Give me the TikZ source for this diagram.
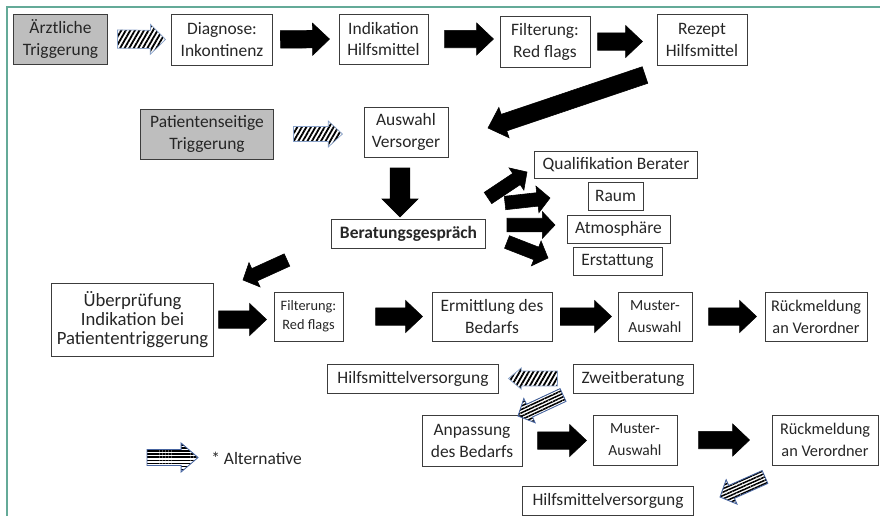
\documentclass[tikz,border=0pt]{standalone}
\usepackage{fontspec}
\setmainfont{Carlito}
\usetikzlibrary{calc,patterns.meta}
\definecolor{rahmen}{RGB}{100,170,152}
\definecolor{kante}{RGB}{60,60,60}
\definecolor{graufeld}{RGB}{190,190,190}
\definecolor{schraffrand}{RGB}{135,160,200}
\definecolor{streifrand}{RGB}{70,100,160}

\begin{document}
\begin{tikzpicture}[x=0.025cm,y=-0.025cm,font=\fontsize{12.4}{15.6}\selectfont]
\tikzset{box/.style={draw=kante,line width=0.7pt,align=center,inner sep=0pt,text=black!85},
dims/.style 2 args={minimum width=#1*0.7113pt,minimum height=#2*0.7113pt},
trigger/.style={box,fill=graufeld},
gap a/.initial=5pt, gap b/.initial=5pt, shaft/.initial=6.2pt, head w/.initial=11.4pt, head l/.initial=12pt,
frei/.style={gap a=0pt,gap b=0pt},
pfeil/.style={to path={let \p1=($(\tikztostart)!\pgfkeysvalueof{/tikz/gap a}!(\tikztotarget)$),
 \p2=($(\tikztotarget)!\pgfkeysvalueof{/tikz/gap b}!(\tikztostart)$),
 \p3=($(\p2)!\pgfkeysvalueof{/tikz/head l}!(\p1)$) in
 ($(\p1)!\pgfkeysvalueof{/tikz/shaft}!90:(\p2)$) -- ($(\p3)!\pgfkeysvalueof{/tikz/shaft}!-90:(\p1)$)
 -- ($(\p3)!\pgfkeysvalueof{/tikz/head w}!-90:(\p1)$) -- (\p2)
 -- ($(\p3)!\pgfkeysvalueof{/tikz/head w}!90:(\p1)$) -- ($(\p3)!\pgfkeysvalueof{/tikz/shaft}!90:(\p1)$)
 -- ($(\p1)!\pgfkeysvalueof{/tikz/shaft}!-90:(\p2)$) -- cycle}},
schwarz/.style={pfeil,fill=black,draw=black,line width=0.4pt},
schraff/.style={pfeil,pattern={Lines[angle=60,distance=2.8pt,line width=1.3pt]},pattern color=black,draw=schraffrand,line width=0.5pt},
streif/.style={pfeil,pattern={Lines[angle=#1,distance=2.2pt,line width=1.1pt]},pattern color=black,draw=streifrand,line width=0.6pt},
streif/.default=0,
fan/.style={schwarz,frei,shaft=4.8pt,head w=9.5pt,head l=9pt}}

\useasboundingbox (0,0) rectangle (880,516);
\draw[rahmen,line width=1.4pt] (7,516) -- (7,7) -- (880,7);

\node[trigger,dims={93}{50}] (aerztl) at (60.5,39) {Ärztliche\\Triggerung};
\node[box,dims={100}{51}] (diag) at (222,39.5) {Diagnose:\\Inkontinenz};
\node[box,dims={89}{50}] (indik) at (383.5,39) {Indikation\\Hilfsmittel};
\node[box,dims={90}{51}] (filt1) at (545,41.5) {Filterung:\\Red flags};
\node[box,dims={90}{51}] (rezept) at (702,39.5) {Rezept\\Hilfsmittel};
\node[trigger,dims={132}{50}] (patient) at (207,134) {Patientenseitige\\Triggerung};
\node[box,dims={84}{50}] (auswahl) at (406,132) {Auswahl\\Versorger};
\node[box,dims={153}{29},font=\fontsize{12.4}{15.6}\selectfont\bfseries] (berat) at (408.5,233.5) {Beratungsgespräch};
\node[box,dims={162}{27}] (quali) at (616,164.5) {Qualifikation Berater};
\node[box,dims={55}{28}] (raum) at (615.5,196) {Raum};
\node[box,dims={103}{28}] (atmo) at (618.5,229) {Atmosphäre};
\node[box,dims={89}{28}] (erst) at (617.5,261) {Erstattung};
\node[box,dims={161}{73},font=\fontsize{13.3}{13.6}\selectfont] (ueber) at (132.5,319.5) {Überprüfung\\Indikation bei\\Patiententriggerung};
\node[box,dims={69}{49},font=\fontsize{10.2}{13.6}\selectfont] (filt2) at (308.5,316.5) {Filterung:\\Red flags};
\node[box,dims={120}{49},font=\fontsize{12.4}{15}\selectfont] (ermitt) at (492,316.5) {Ermittlung des\\Bedarfs};
\node[box,dims={74}{49},font=\fontsize{11}{15.6}\selectfont] (muster1) at (655,316.5) {Muster-\\Auswahl};
\node[box,dims={102}{49},font=\fontsize{11.6}{15.6}\selectfont] (rueck1) at (816,316.5) {Rückmeldung\\an Verordner};
\node[box,dims={170}{29}] (hmv1) at (413,378.5) {Hilfsmittelversorgung};
\node[box,dims={120}{29}] (zweit) at (633,378.5) {Zweitberatung};
\node[box,dims={100}{51}] (anpass) at (472,440.5) {Anpassung\\des Bedarfs};
\node[box,dims={84}{50},font=\fontsize{11}{15.6}\selectfont] (muster2) at (635,440) {Muster-\\Auswahl};
\node[box,dims={106}{50},font=\fontsize{11.6}{15.6}\selectfont] (rueck2) at (825,440) {Rückmeldung\\an Verordner};
\node[box,dims={170}{29}] (hmv2) at (608,500.5) {Hilfsmittelversorgung};
\node[anchor=west,inner sep=0pt,text=black!85] (alt) at (211,458) {* Alternative};

\coordinate (rz1) at (645,75);
\coordinate (rz2) at (488,128);
\coordinate (ab1) at (400,168);
\coordinate (ab2) at (400,217);
\coordinate (f1a) at (488,198);
\coordinate (f1b) at (527,172);
\coordinate (f2a) at (505,203);
\coordinate (f2b) at (550,198);
\coordinate (f3a) at (507,225);
\coordinate (f3b) at (555,225);
\coordinate (f4a) at (507,242);
\coordinate (f4b) at (548,258);
\coordinate (ru1) at (287,260);
\coordinate (ru2) at (243,280);
\coordinate (zw1) at (563,395);
\coordinate (zw2) at (518,416);
\coordinate (hv1) at (765,477);
\coordinate (hv2) at (720,497);
\coordinate (lg1) at (147,457.5);
\coordinate (lg2) at (198,457.5);

\draw[schraff,gap a=7.1pt,gap b=4.3pt,shaft=6.5pt,head w=10.7pt,head l=10.7pt] (aerztl.east) to (diag.west);
\draw[schwarz,gap a=5.7pt,gap b=6.4pt] (diag.east) to (indik.west);
\draw[schwarz,gap a=11.4pt,gap b=4.3pt] (indik.east) to (indik.east -| filt1.west);
\draw[schwarz,gap a=5pt,gap b=10pt] (filt1.east) to (filt1.east -| rezept.west);
\draw[schwarz,frei] (rz1) to (rz2);
\draw[schraff,gap a=14.2pt,gap b=15pt,shaft=5.3pt,head w=9.2pt,head l=10pt] (patient.east) to (patient.east -| auswahl.west);
\draw[schwarz,frei,shaft=7pt,head w=12.8pt,head l=12.8pt] (ab1) to (ab2);
\draw[fan] (f1a) to (f1b);
\draw[fan] (f2a) to (f2b);
\draw[fan] (f3a) to (f3b);
\draw[fan] (f4a) to (f4b);
\draw[fan] (ru1) to (ru2);
\draw[schwarz,gap a=3.6pt,gap b=5pt] (ueber.east) to (ueber.east -| filt2.west);
\draw[schwarz,gap a=22.8pt,gap b=6.4pt] (filt2.east) to (ermitt.west);
\draw[schwarz,gap a=5.7pt,gap b=4.3pt] (ermitt.east) to (muster1.west);
\draw[schwarz,gap a=11.4pt,gap b=5.7pt] (muster1.east) to (rueck1.west);
\draw[schraff,gap a=10.7pt,gap b=7.1pt,shaft=5.3pt,head w=7.5pt,head l=9pt] (zweit.west) to (hmv1.east);
\draw[streif=25,frei,shaft=5pt,head w=9.5pt,head l=9pt] (zw1) to (zw2);
\draw[schwarz,gap a=10.7pt,gap b=4.3pt] (anpass.east) to (anpass.east -| muster2.west);
\draw[schwarz,gap a=15pt,gap b=15.6pt] (muster2.east) to (rueck2.west);
\draw[streif=24,frei,shaft=5pt,head w=9.5pt,head l=9pt] (hv1) to (hv2);
\draw[streif,frei,shaft=5.7pt,head w=10.3pt,head l=12pt] (lg1) to (lg2);
\end{tikzpicture}
\end{document}
